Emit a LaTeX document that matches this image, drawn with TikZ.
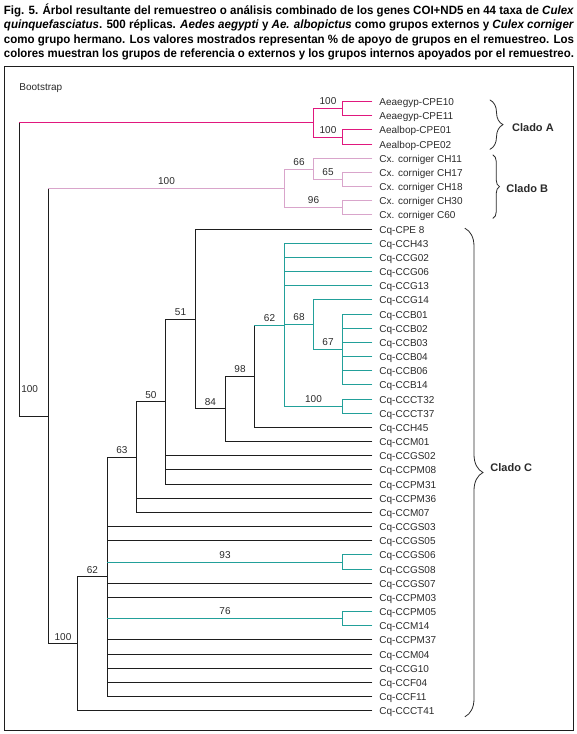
\documentclass[tikz,border=0pt]{standalone}
\usepackage{fontspec}
\setmainfont{Liberation Sans}
\usepackage{graphicx}
\usetikzlibrary{decorations.pathreplacing,calc}
\definecolor{pk}{HTML}{E0187E}
\definecolor{lp}{HTML}{D9A5CB}
\definecolor{tl}{HTML}{22A09A}
\definecolor{ink}{HTML}{1E1E1E}
\definecolor{txt}{HTML}{2A2A2A}
% edge: #1 vertical colour, #2 parent, #3 child, #4 horizontal colour
\newcommand\brn[4]{\draw[#1] (#2) -- (#2 |- #3); \draw[#4] (#2 |- #3) -- (#3);}
% edge with bootstrap label #5
\newcommand\brl[5]{\draw[#1] (#2) -- (#2 |- #3); \draw[#4] (#2 |- #3) -- node[lbl] (b#3) {#5} (#3);}
% inner node #1 at x=#2, halfway between extreme children #3 and #4
\newcommand\innernode[4]{\coordinate (#1m) at ($(#3)!0.5!(#4)$); \coordinate (#1) at (#2,0 |- #1m);}
\begin{document}
\begin{tikzpicture}[x=1pt,y=-1pt,line width=0.9pt,line cap=rect,
  lbl/.style={anchor=south,inner sep=0pt,yshift=3pt,font=\fontsize{10}{12}\selectfont,text=txt},
  leaf/.style={anchor=base west,inner sep=0pt,yshift=-3.6pt,font=\fontsize{10}{12}\selectfont,text=txt},
  captext/.style={anchor=base west,inner sep=0pt,font=\bfseries\fontsize{12}{14}\selectfont,text=black},
  clado/.style={anchor=west,inner sep=0pt,font=\bfseries\fontsize{11}{13}\selectfont,text=txt},
  bracestyle/.style={draw=txt,line width=0.8pt,line cap=round,decorate}]
\useasboundingbox (0,0) rectangle (577,734);
% caption
\node[captext] (cap1) at (3.5,14) {\resizebox{570pt}{\height}{Fig. 5. Árbol resultante del remuestreo o análisis combinado de los genes COI+ND5 en 44 taxa de \textit{Culex}}};
\node[captext] (cap2) at (3.5,28.5) {\resizebox{570pt}{\height}{\textit{quinquefasciatus}. 500 réplicas. \textit{Aedes aegypti} y \textit{Ae. albopictus} como grupos externos y \textit{Culex corniger}}};
\node[captext] (cap3) at (3.5,43) {\resizebox{570pt}{\height}{como grupo hermano. Los valores mostrados representan \% de apoyo de grupos en el remuestreo. Los}};
\node[captext] (cap4) at (3.5,57.5) {\resizebox{570pt}{\height}{colores muestran los grupos de referencia o externos y los grupos internos apoyados por el remuestreo.}};
% frame
\coordinate (fr1) at (4.5,66.5);
\coordinate (fr2) at (573.5,730.5);
\draw[ink,line width=1pt] (fr1) rectangle (fr2);
\node[leaf,yshift=0pt] (bootstrap) at (19,87) {Bootstrap};
% leaves
\foreach \i/\nm in {0/Aeaegyp-CPE10,1/Aeaegyp-CPE11,2/Aealbop-CPE01,3/Aealbop-CPE02,
  4/Cx. corniger CH11,5/Cx. corniger CH17,6/Cx. corniger CH18,7/Cx. corniger CH30,8/Cx. corniger C60,
  9/Cq-CPE 8,10/Cq-CCH43,11/Cq-CCG02,12/Cq-CCG06,13/Cq-CCG13,14/Cq-CCG14,15/Cq-CCB01,16/Cq-CCB02,
  17/Cq-CCB03,18/Cq-CCB04,19/Cq-CCB06,20/Cq-CCB14,21/Cq-CCCT32,22/Cq-CCCT37,23/Cq-CCH45,24/Cq-CCM01,
  25/Cq-CCGS02,26/Cq-CCPM08,27/Cq-CCPM31,28/Cq-CCPM36,29/Cq-CCM07,30/Cq-CCGS03,31/Cq-CCGS05,
  32/Cq-CCGS06,33/Cq-CCGS08,34/Cq-CCGS07,35/Cq-CCPM03,36/Cq-CCPM05,37/Cq-CCM14,38/Cq-CCPM37,
  39/Cq-CCM04,40/Cq-CCG10,41/Cq-CCF04,42/Cq-CCF11,43/Cq-CCCT41}{
  \coordinate (l\i) at (372,{round(101+14.167*\i)+0.5});
  \node[leaf] (t\i) at (379,{round(101+14.167*\i)+0.5}) {\nm};
}
% internal nodes (bottom-up)
\innernode{a1}{342.5}{l0}{l1}
\innernode{a2}{342.5}{l2}{l3}
\innernode{A}{313.5}{a1}{a2}
\innernode{b65}{342.5}{l5}{l6}
\innernode{b66}{313.5}{l4}{b65}
\innernode{b96}{342.5}{l7}{l8}
\innernode{B}{284.5}{b66}{b96}
\innernode{c67}{342.5}{l15}{l20}
\innernode{c68}{313.5}{l14}{c67}
\innernode{c100}{342.5}{l21}{l22}
\innernode{c62a}{284.5}{l10}{c100}
\innernode{c98}{254.5}{c62a}{l23}
\innernode{c84}{225.5}{c98}{l24}
\innernode{c51}{195.5}{l9}{c84}
\innernode{c50}{165.5}{c51}{l27}
\innernode{c63}{136.5}{c50}{l29}
\innernode{c93}{342.5}{l32}{l33}
\innernode{c76}{342.5}{l36}{l37}
\innernode{c62b}{107.5}{c63}{l42}
\innernode{C}{77.5}{c62b}{l43}
\innernode{B}{284.5}{b66}{b96}
\innernode{BC}{48.5}{B}{C}
\innernode{root}{19.5}{A}{BC}
% clade A
\brn{ink}{root}{A}{pk}
\brl{pk}{A}{a1}{pk}{100}
\brl{pk}{A}{a2}{pk}{100}
\foreach \i in {0,1}{\brn{pk}{a1}{l\i}{pk}}
\foreach \i in {2,3}{\brn{pk}{a2}{l\i}{pk}}
% B + C
\brn{ink}{root}{BC}{ink}
\node[lbl,anchor=center,yshift=0pt] (rootlbl) at (29.7,391.7) {100};
\brl{ink}{BC}{B}{lp}{100}
\brl{lp}{B}{b66}{lp}{66}
\brn{lp}{b66}{l4}{lp}
\brl{lp}{b66}{b65}{lp}{65}
\foreach \i in {5,6}{\brn{lp}{b65}{l\i}{lp}}
\brl{lp}{B}{b96}{lp}{96}
\foreach \i in {7,8}{\brn{lp}{b96}{l\i}{lp}}
% clade C
\brl{ink}{BC}{C}{ink}{100}
\brl{ink}{C}{c62b}{ink}{62}
\brn{ink}{C}{l43}{ink}
\brl{ink}{c62b}{c63}{ink}{63}
\foreach \i in {30,31,34,35,38,39,40,41,42}{\brn{ink}{c62b}{l\i}{ink}}
\brl{ink}{c62b}{c93}{tl}{93}
\foreach \i in {32,33}{\brn{tl}{c93}{l\i}{tl}}
\brl{ink}{c62b}{c76}{tl}{76}
\foreach \i in {36,37}{\brn{tl}{c76}{l\i}{tl}}
\brl{ink}{c63}{c50}{ink}{50}
\foreach \i in {28,29}{\brn{ink}{c63}{l\i}{ink}}
\brl{ink}{c50}{c51}{ink}{51}
\foreach \i in {25,26,27}{\brn{ink}{c50}{l\i}{ink}}
\brn{ink}{c51}{l9}{ink}
\brl{ink}{c51}{c84}{ink}{84}
\brl{ink}{c84}{c98}{ink}{98}
\brn{ink}{c84}{l24}{ink}
\brl{ink}{c98}{c62a}{tl}{62}
\brn{ink}{c98}{l23}{ink}
\foreach \i in {10,11,12,13}{\brn{tl}{c62a}{l\i}{tl}}
\brl{tl}{c62a}{c68}{tl}{68}
\brl{tl}{c62a}{c100}{tl}{100}
\brn{tl}{c68}{l14}{tl}
\brl{tl}{c68}{c67}{tl}{67}
\foreach \i in {15,...,20}{\brn{tl}{c67}{l\i}{tl}}
\foreach \i in {21,22}{\brn{tl}{c100}{l\i}{tl}}
% braces
\coordinate (bAt) at (490,100);
\coordinate (bAb) at (490,149.3);
\coordinate (bBt) at (493,155);
\coordinate (bBb) at (493,218.3);
\coordinate (bCt) at (465,228.3);
\coordinate (bCb) at (465,716.7);
\draw[bracestyle,decoration={brace,amplitude=13pt}] (bAt) -- (bAb);
\draw[bracestyle,decoration={brace,amplitude=6.5pt}] (bBt) -- (bBb);
\draw[bracestyle,decoration={brace,amplitude=18pt}] (bCt) -- (bCb);
\node[clado] (cladoA) at (511.7,127.5) {Clado A};
\node[clado] (cladoB) at (506,188.5) {Clado B};
\node[clado] (cladoC) at (490,467.7) {Clado C};
\end{tikzpicture}
\end{document}
